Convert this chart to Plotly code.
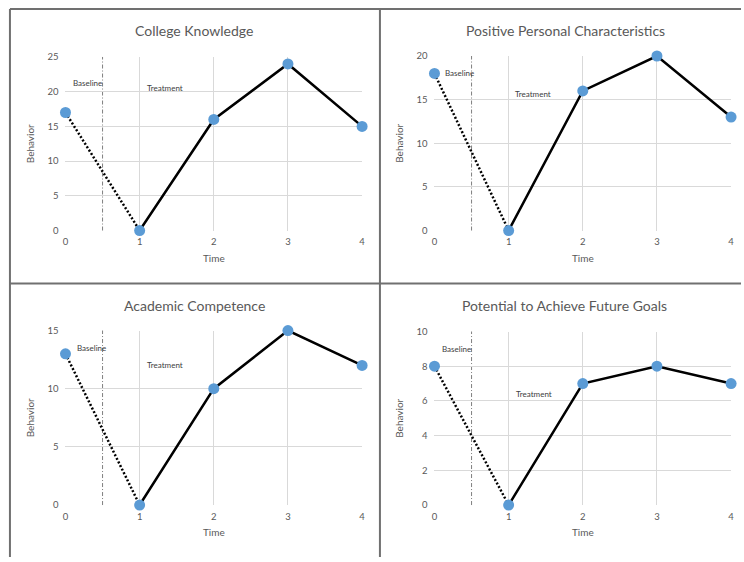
import plotly.graph_objects as go

# Single-case design data: time points and behavior scores per domain
time = [0, 1, 2, 3, 4]
panel_titles = [
    "College Knowledge",
    "Positive Personal Characteristics",
    "Academic Competence",
    "Potential to Achieve Future Goals",
]
college_knowledge = [17, 0, 16, 24, 15]
personal_characteristics = [18, 0, 16, 20, 13]
academic_competence = [13, 0, 10, 15, 12]
future_goals = [8, 0, 7, 8, 7]
series = [college_knowledge, personal_characteristics, academic_competence, future_goals]

y_max = [25, 20, 15, 10]
y_step = [5, 5, 5, 2]
phase_change = 0.5

# Phase label anchor positions (data coordinates)
baseline_pos = [(0.07, 21.3), (0.12, 18.1), (0.13, 13.5), (0.08, 9.0)]
treatment_pos = [(1.07, 20.6), (1.06, 15.6), (1.07, 12.0), (1.07, 6.4)]

W, H = 744, 562
FONT = "Lato"
GRAY = "#595959"
GRID = "#d9d9d9"
BLUE = "#5b9bd5"

# Plot-area boxes in pixels: (left, right, top, bottom)
boxes = [(63, 362, 52, 229), (435, 734, 51, 229), (63, 362, 331, 509), (435, 734, 332, 509)]
title_pos = [(193, 25), (567, 25), (193, 305), (566, 305)]

fig = go.Figure()
annotations = []
shapes = []

for i, vals in enumerate(series):
    n = "" if i == 0 else str(i + 1)
    xa, ya = "x" + n, "y" + n
    left, right, top, bottom = boxes[i]

    # Baseline phase (dotted)
    fig.add_trace(go.Scatter(
        x=time[:2], y=vals[:2], mode="lines", xaxis=xa, yaxis=ya,
        line=dict(color="black", width=2.5, dash="2px,2px"), showlegend=False,
        cliponaxis=False,
    ))
    # Treatment phase (solid)
    fig.add_trace(go.Scatter(
        x=time[1:], y=vals[1:], mode="lines", xaxis=xa, yaxis=ya,
        line=dict(color="black", width=2.5), showlegend=False,
        cliponaxis=False,
    ))
    # Observations
    fig.add_trace(go.Scatter(
        x=time, y=vals, mode="markers", xaxis=xa, yaxis=ya,
        marker=dict(color=BLUE, size=11, line=dict(width=0)), showlegend=False,
        cliponaxis=False,
    ))

    axis_common = dict(
        showgrid=True, gridcolor=GRID, gridwidth=1,
        zeroline=False, showline=False, ticks="",
        tickfont=dict(family=FONT, size=9.5, color=GRAY),
        fixedrange=True,
    )
    fig.layout["xaxis" + n] = dict(
        axis_common,
        domain=[left / W, right / W], anchor=ya,
        range=[0, 4], tickmode="array", tickvals=time,
        ticktext=[str(t) for t in time], ticklabelstandoff=4,
        title=dict(text="Time", font=dict(family=FONT, size=10, color=GRAY), standoff=8),
    )
    fig.layout["yaxis" + n] = dict(
        axis_common,
        domain=[1 - bottom / H, 1 - top / H], anchor=xa,
        range=[0, y_max[i]], tick0=0, dtick=y_step[i], ticklabelstandoff=6,
        title=dict(text="Behavior", font=dict(family=FONT, size=10, color=GRAY), standoff=10),
    )

    # Phase-change line
    shapes.append(dict(
        type="line", xref=xa, yref=ya + " domain", x0=phase_change, x1=phase_change,
        y0=0, y1=1, line=dict(color="#7f7f7f", width=1, dash="4px,2px,1px,2px"), layer="below",
    ))

    # Phase labels
    bx, by = baseline_pos[i]
    tx, ty = treatment_pos[i]
    annotations.append(dict(
        text="Baseline", x=bx, y=by, xref=xa, yref=ya, showarrow=False,
        xanchor="left", yanchor="middle", font=dict(family=FONT, size=8, color="#404040"),
    ))
    annotations.append(dict(
        text="Treatment", x=tx, y=ty, xref=xa, yref=ya, showarrow=False,
        xanchor="left", yanchor="middle", font=dict(family=FONT, size=8, color="#404040"),
    ))

    # Panel title
    cx, cy = title_pos[i]
    annotations.append(dict(
        text=panel_titles[i], x=cx / W, y=1 - cy / H, xref="paper", yref="paper",
        showarrow=False, xanchor="center", yanchor="middle",
        font=dict(family=FONT, size=14, color=GRAY),
    ))

# Panel frames
frame = dict(color="#707070", width=2)
for x0, y0, x1, y1 in [(7, 3, 744, 3), (7, 3, 7, 562), (380, 3, 380, 562), (7, 283, 744, 283)]:
    shapes.append(dict(
        type="line", xref="paper", yref="paper",
        x0=x0 / W, x1=x1 / W, y0=1 - y0 / H, y1=1 - y1 / H, line=frame,
    ))

fig.update_layout(
    width=W, height=H, margin=dict(l=0, r=0, t=0, b=0),
    paper_bgcolor="white", plot_bgcolor="white",
    annotations=annotations, shapes=shapes,
)

# Let the figure fill the page from its top-left corner
fig.write_html(
    "out.html",
    post_script="document.body.style.margin='0';document.body.style.overflow='hidden';",
)
